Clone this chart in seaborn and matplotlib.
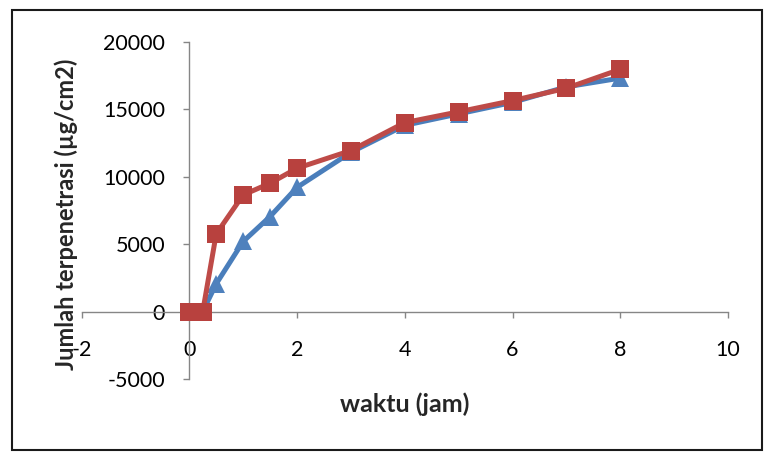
import matplotlib
matplotlib.use("Agg")
import matplotlib.pyplot as plt
import seaborn as sns
import pandas as pd
from matplotlib.patches import Rectangle

# Sampling times (hours) and cumulative amount penetrated (µg/cm2)
waktu = [0, 0.25, 0.5, 1, 1.5, 2, 3, 4, 5, 6, 7, 8]
seri_biru = [0, 0, 2050, 5190, 7040, 9200, 11800, 13800, 14650, 15500, 16650, 17300]
seri_merah = [0, 0, 5750, 8640, 9510, 10620, 11930, 14000, 14800, 15630, 16550, 17950]

x_ticks = [-2, 0, 2, 4, 6, 8, 10]
y_ticks = [-5000, 0, 5000, 10000, 15000, 20000]

sns.set_theme(style="white")
plt.rcParams["font.family"] = ["Lato", "DejaVu Sans"]

df_biru = pd.DataFrame({"waktu": waktu, "jumlah": seri_biru})
df_merah = pd.DataFrame({"waktu": waktu, "jumlah": seri_merah})

fig = plt.figure(figsize=(7.64, 4.53), dpi=100)
ax = fig.add_axes([0.1067, 0.1634, 0.8462, 0.7446])

sns.lineplot(data=df_biru, x="waktu", y="jumlah", ax=ax, color="#4A7EBB",
             linewidth=3.6, marker="^", markersize=12.5, markeredgewidth=0,
             markerfacecolor="#4F81BD", zorder=3)
sns.lineplot(data=df_merah, x="waktu", y="jumlah", ax=ax, color="#BE4B48",
             linewidth=3.6, marker="s", markersize=12.5, markeredgewidth=0,
             markerfacecolor="#B8413E", zorder=4)

ax.set_xlim(-2, 10)
ax.set_ylim(-5000, 20000)
ax.set_xticks(x_ticks)
ax.set_yticks(y_ticks)
ax.set_xticklabels([str(t) for t in x_ticks])
ax.set_yticklabels([str(t) for t in y_ticks])

# Axes cross at the origin
for side in ("top", "right"):
    ax.spines[side].set_visible(False)
ax.spines["left"].set_position(("data", 0))
ax.spines["bottom"].set_position(("data", 0))
for side in ("left", "bottom"):
    ax.spines[side].set_color("#868686")
    ax.spines[side].set_linewidth(1.0)

ax.tick_params(axis="both", which="major", direction="out", length=4.5,
               width=1.0, color="#868686", labelsize=15.5, labelcolor="#000000")
ax.tick_params(axis="x", pad=16, bottom=True)
ax.tick_params(axis="y", pad=13, left=True)

ax.set_xlabel("")
ax.set_ylabel("")
fig.text(0.5301, 0.108, "waktu (jam)", ha="center", va="center",
         fontsize=18, fontweight="bold")
fig.text(0.0860, 0.528, "Jumlah terpenetrasi (µg/cm2)", ha="center",
         va="center", rotation=90, fontsize=17, fontweight="bold")

# Chart area frame
fig.patches.append(Rectangle((12 / 764, 1 - 450 / 453), 750 / 764, 440 / 453,
                             transform=fig.transFigure, fill=False,
                             edgecolor="#1a1a1a", linewidth=1.5))

fig.savefig("out.png", dpi=100)
